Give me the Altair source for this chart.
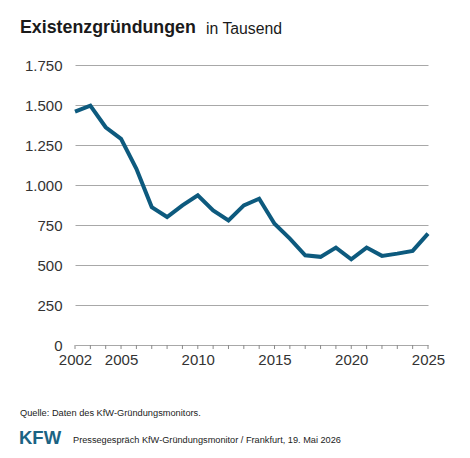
import altair as alt
import pandas as pd

years = list(range(2002, 2026))
values = [1458, 1496, 1361, 1288, 1101, 862, 800, 873, 935, 841, 779, 873, 914,
          758, 665, 561, 551, 609, 536, 609, 557, 571, 588, 696]
y_ticks = [0, 250, 500, 750, 1000, 1250, 1500, 1750]
x_labels = [2002, 2005, 2010, 2015, 2020, 2025]

title_bold = "Existenzgründungen"
title_rest = "in Tausend"
source = "Quelle: Daten des KfW-Gründungsmonitors."
logo = "KFW"
footer = "Pressegespräch KfW-Gründungsmonitor / Frankfurt, 19. Mai 2026"

df = pd.DataFrame({"year": years, "value": values})
FONT = "Liberation Sans"

label_test = " || ".join(f"datum.value == {v}" for v in x_labels)

base = alt.Chart(df).encode(
    x=alt.X("year:Q", scale=alt.Scale(domain=[2002, 2025], nice=False, zero=False),
            axis=alt.Axis(values=years, title=None, grid=False, domain=False,
                          ticks=False,
                          labelExpr=f"({label_test}) ? datum.value : ''",
                          labelOverlap=False, labelFont=FONT, labelFontSize=15,
                          labelColor="#333333", labelPadding=7, labelFlush=False)),
)

yaxis = alt.Y("value:Q", scale=alt.Scale(domain=[0, 1750], nice=False),
              axis=alt.Axis(values=y_ticks, title=None, grid=True, gridColor="#a8a8a8",
                            gridWidth=1, domain=False, ticks=False, labelOverlap=False,
                            labelExpr="replace(format(datum.value, ','), ',', '.')",
                            labelFont=FONT, labelFontSize=15, labelColor="#333333",
                            labelPadding=13))

line = base.mark_line(color="#0d5a7e", strokeWidth=4, strokeJoin="miter").encode(y=yaxis)

xticks = base.mark_rule(color="#8a8a8a", strokeWidth=1).encode(
    y=alt.value(280), y2=alt.value(284)
)

def txt(s, x, y, size, weight="normal", color="#222222", align="left"):
    return alt.Chart(pd.DataFrame({"t": [s]})).mark_text(
        font=FONT, fontSize=size, fontWeight=weight, color=color, align=align,
        baseline="middle").encode(x=alt.value(x), y=alt.value(y), text="t:N")

annot = (
    txt(title_bold, -55, -37, 17.8, "bold", "#1a1a1a")
    + txt(title_rest, 131, -36, 15.8, "normal", "#1a1a1a")
    + txt(source, -55, 348, 9.25, "normal", "#222222")
    + txt(logo, -56, 373, 18.5, "bold", "#1b6383")
    + txt(footer, -2, 375, 9.2, "normal", "#222222")
)

chart = (xticks + line + annot).properties(
    width=353, height=280,
    background="white",
    autosize=alt.AutoSizeParams(type="none"),
    padding={"left": 75, "top": 65, "right": 42, "bottom": 113},
).configure_view(strokeWidth=0)

chart.save("out.html", embed_options={"renderer": "svg", "actions": False})
